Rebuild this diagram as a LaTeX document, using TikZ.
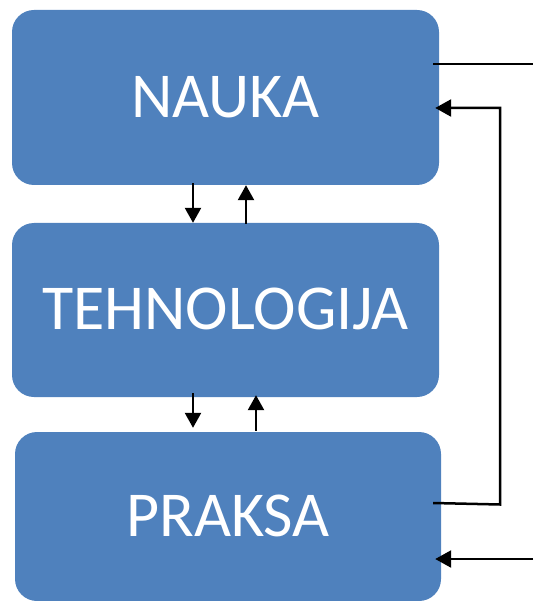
\documentclass[tikz,border=0pt]{standalone}
\usepackage{fontspec}
\setmainfont{Carlito}
\usetikzlibrary{arrows.meta}
\definecolor{boxblue}{HTML}{4F81BD}
\tikzset{
  block/.style={fill=boxblue, draw=none, rounded corners=22pt,
    minimum width=427pt, inner sep=0pt,
    text=white, font=\fontsize{64}{70}\selectfont},
  arr/.style={line width=2.4pt, -{Triangle[width=16pt,length=15pt]}},
  wire/.style={line width=2.5pt},
  warr/.style={line width=2.5pt, -{Triangle[width=17pt,length=16pt]}}
}
\begin{document}
\begin{tikzpicture}[x=1pt, y=-1pt]
  \useasboundingbox (0,0) rectangle (533,601);

  % three stacked blocks
  \node[block, minimum height=175pt] (nauka) at (225.5,97.5) {\raisebox{2pt}{NAUKA}};
  \node[block, minimum height=174pt] (tehn) at (225.5,310) {\raisebox{2pt}{TEHNOLOGIJA}};
  \node[block, minimum height=169pt, minimum width=426pt] (praksa) at (228,516.5) {\raisebox{2pt}{PRAKSA}};

  % vertical links between the blocks
  \draw[arr] ([xshift=-32.5pt, yshift=2pt]nauka.south) -- ([xshift=-32.5pt]tehn.north);
  \draw[arr] ([xshift=20.5pt, yshift=-1pt]tehn.north) -- ([xshift=20.5pt]nauka.south);
  \draw[arr] ([xshift=-32.5pt, yshift=4pt]tehn.south) -- ([xshift=-35pt, yshift=4pt]praksa.north);
  \draw[arr] ([xshift=28pt, yshift=1pt]praksa.north) -- ([xshift=30.5pt, yshift=2pt]tehn.south);

  % links on the right side
  \coordinate (outTop) at (533,64);
  \coordinate (outBot) at (533,559);
  \coordinate (fbCorner1) at (500,504.5);
  \coordinate (fbCorner2) at (500,108);
  \draw[wire] ([xshift=-6pt]nauka.east |- outTop) -- (outTop);
  \draw[warr] ([xshift=-8pt]praksa.east |- 0,503) -- (fbCorner1) -- (fbCorner2)
    -- ([xshift=-4pt]nauka.east |- fbCorner2);
  \draw[warr] (outBot) -- ([xshift=-6pt]praksa.east |- outBot);
\end{tikzpicture}
\end{document}
